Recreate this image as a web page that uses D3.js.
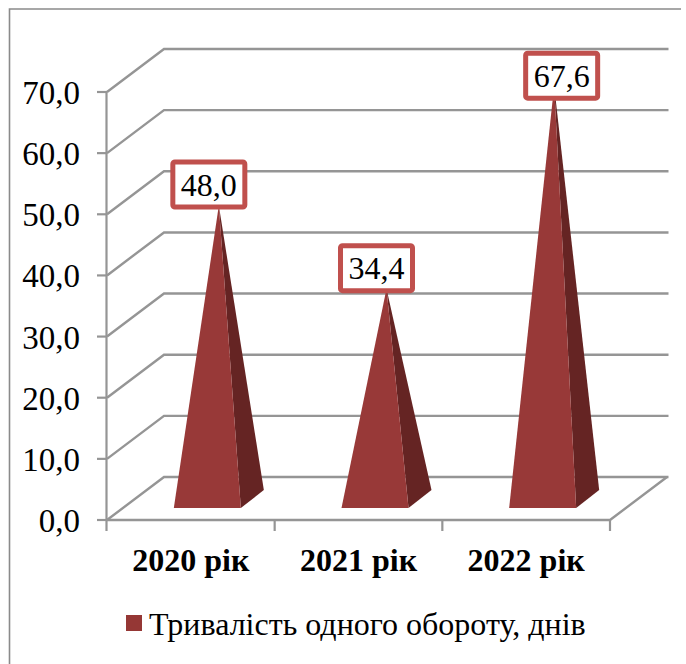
<!DOCTYPE html>
<html><head><meta charset="utf-8">
<style>html,body{margin:0;padding:0;background:#fff}svg{display:block}text{font-family:"Liberation Serif",serif;fill:#000}</style>
<script src="https://cdn.jsdelivr.net/npm/d3@7"></script></head>
<body><svg id="c" width="686" height="664"></svg>
<script>
const categories = ["2020 рік","2021 рік","2022 рік"];
const values = [48.0,34.4,67.6];
const labels = ["48,0","34,4","67,6"];
const ticks = [0,10,20,30,40,50,60,70];
const tickLabels = ["0,0","10,0","20,0","30,0","40,0","50,0","60,0","70,0"];
const legendLabel = "Тривалість одного обороту, днів";

const svg = d3.select("#c");
const grey="#959595";
svg.append("path").attr("d","M9.5,664V9H681").attr("fill","none").attr("stroke","#8a8a8a").attr("stroke-width",1.6);

const x0=107,xR=610,yB=520,yT=92,dx=57,dy=43;
const y=d3.scaleLinear().domain([0,70]).range([yB,yT]);
const x=d3.scaleBand().domain(categories).range([x0,xR]);
const g=svg.append("g");
g.selectAll(".grid").data(ticks).join("path").attr("fill","none").attr("stroke",grey).attr("stroke-width",2.4)
 .attr("d",d=>`M${x0},${y(d)}L${x0+dx},${y(d)-dy}H${xR+dx+1.5}`);
g.append("path").attr("fill","none").attr("stroke",grey).attr("stroke-width",2.4)
 .attr("d",`M${x0},${yB}H${xR}L${xR+dx},${yB-dy}`);
g.append("path").attr("fill","none").attr("stroke",grey).attr("stroke-width",2.2).attr("d",`M${x0-.5},${yT}V${yB+11}`);
g.selectAll(".yt").data(ticks).join("line").attr("stroke",grey).attr("stroke-width",2.2)
 .attr("x1",x0-10).attr("x2",x0).attr("y1",d=>y(d)).attr("y2",d=>y(d));
g.selectAll(".xt").data(d3.range(1,4)).join("line").attr("stroke",grey).attr("stroke-width",2.2)
 .attr("x1",d=>x0+d*x.bandwidth()).attr("x2",d=>x0+d*x.bandwidth()).attr("y1",yB).attr("y2",yB+11);
g.selectAll(".yl").data(ticks).join("text").attr("text-anchor","end").attr("font-size",33)
 .attr("x",80).attr("y",d=>y(d)+12).text((d,i)=>tickLabels[i]);
const h=d3.scaleLinear().domain([0,70]).range([0,428]);
const baseY=508, bw=67, ddx=23, ddy=18, shift=28;
const pyr=g.selectAll(".p").data(values).join("g");
pyr.each(function(v,i){
  const s=d3.select(this);
  const cx=x(categories[i])+x.bandwidth()/2+shift;
  const l=cx-bw/2-ddx/2, r=l+bw;
  const ax=l+(bw+ddx)/2, ay=baseY-ddy/2-h(v);
  s.append("path").attr("fill","#652423").attr("d",`M${ax},${ay}L${r},${baseY}L${r+ddx},${baseY-ddy}Z`);
  s.append("path").attr("fill","#983938").attr("d",`M${ax},${ay}L${l},${baseY}L${r},${baseY}Z`);
});
// data-label placement relative to each apex
const labelDx=[-10,-10,7.5], labelDy=[-21,-20.5,-10];
const lb=g.selectAll(".lb").data(values).join("g").attr("transform",(v,i)=>{
  const cx=x(categories[i])+x.bandwidth()/2+shift;
  return `translate(${cx+labelDx[i]},${baseY-ddy/2-h(v)+labelDy[i]})`;
});
lb.append("rect").attr("x",-36).attr("y",-22.5).attr("width",72).attr("height",45).attr("rx",2).attr("fill","#fff").attr("stroke","#c0504d").attr("stroke-width",5);
lb.append("text").attr("text-anchor","middle").attr("font-size",32).attr("y",11).text((v,i)=>labels[i]);
g.selectAll(".cl").data(categories).join("text").attr("text-anchor","middle").attr("font-size",32).attr("font-weight","bold")
 .attr("x",d=>x(d)+x.bandwidth()/2).attr("y",571).text(d=>d);
svg.append("rect").attr("x",126).attr("y",615).attr("width",16).attr("height",16).attr("fill","#953735");
svg.append("text").attr("x",149).attr("y",635).attr("font-size",32).text(legendLabel);
</script></body></html>
